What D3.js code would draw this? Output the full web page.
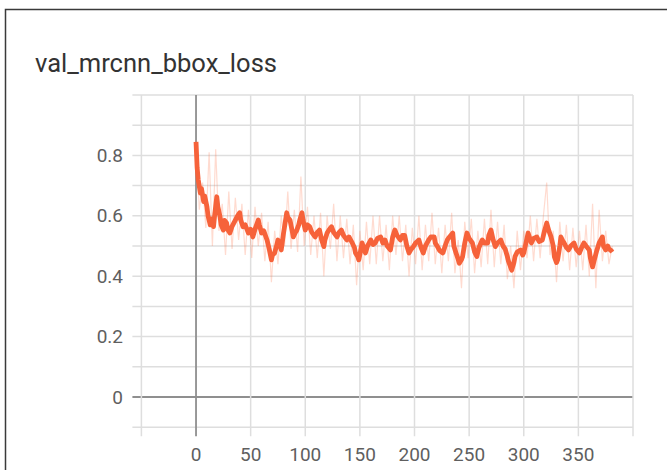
<!DOCTYPE html>
<html>
<head>
<meta charset="utf-8">
<script src="https://cdn.jsdelivr.net/npm/d3@7"></script>
<style>
  html, body { margin: 0; padding: 0; background: #fff; }
  svg { display: block; }
</style>
</head>
<body>
<svg id="chart" width="667" height="470"></svg>
<script>
// ---- data ----
const title = "val_mrcnn_bbox_loss";
const xTickValues = [0, 50, 100, 150, 200, 250, 300, 350];
const xGridValues = [-50, 0, 50, 100, 150, 200, 250, 300, 350, 400];
const yTickValues = [0, 0.2, 0.4, 0.6, 0.8];
const yGridValues = [-0.1, 0, 0.1, 0.2, 0.3, 0.4, 0.5, 0.6, 0.7, 0.8, 0.9, 1.0];

// smoothed series (step, value)
const smoothSteps = [0,1,2,4,5,7,8,10,11,13,14,16,17,19,20,22,23,25,26,28,29,31,33,36,38,40,41,43,45,48,50,52,54,57,58,60,62,65,67,69,70,72,74,75,77,78,80,83,84,86,88,89,91,92,94,95,97,98,100,102,104,106,109,111,113,115,117,118,120,122,124,126,129,131,133,135,138,140,143,145,146,148,149,151,152,154,155,157,160,162,164,166,169,171,173,175,178,180,182,184,187,189,191,193,195,197,199,201,204,206,208,210,213,215,218,219,221,223,226,228,230,232,235,236,238,240,241,243,244,246,248,250,253,255,257,259,262,264,267,268,270,272,274,276,279,281,283,285,286,288,289,291,292,294,297,299,300,302,304,306,307,309,312,314,317,319,321,323,325,327,328,330,331,333,334,336,337,339,341,343,346,348,351,353,355,357,360,361,363,365,367,369,372,373,375,377,378,380,381];
const smoothValues = [0.845,0.76,0.72,0.675,0.69,0.647,0.665,0.63,0.6,0.57,0.59,0.564,0.6,0.663,0.63,0.597,0.57,0.553,0.585,0.576,0.555,0.543,0.565,0.586,0.6,0.61,0.585,0.564,0.57,0.543,0.555,0.53,0.555,0.586,0.57,0.543,0.55,0.52,0.49,0.454,0.47,0.477,0.505,0.52,0.5,0.487,0.54,0.61,0.595,0.586,0.55,0.53,0.545,0.55,0.57,0.586,0.61,0.585,0.553,0.57,0.564,0.545,0.53,0.545,0.553,0.52,0.498,0.52,0.543,0.555,0.564,0.545,0.53,0.545,0.553,0.535,0.52,0.53,0.51,0.495,0.477,0.465,0.454,0.49,0.51,0.49,0.477,0.5,0.52,0.505,0.51,0.525,0.53,0.51,0.52,0.5,0.487,0.53,0.553,0.535,0.52,0.535,0.535,0.5,0.477,0.49,0.498,0.51,0.52,0.495,0.477,0.5,0.52,0.53,0.53,0.51,0.498,0.485,0.477,0.5,0.52,0.53,0.543,0.5,0.477,0.455,0.443,0.455,0.465,0.51,0.543,0.525,0.51,0.48,0.465,0.495,0.52,0.51,0.51,0.535,0.553,0.52,0.498,0.51,0.52,0.5,0.49,0.465,0.45,0.43,0.42,0.445,0.465,0.48,0.487,0.47,0.477,0.51,0.543,0.52,0.51,0.525,0.53,0.515,0.52,0.55,0.576,0.55,0.53,0.5,0.465,0.445,0.454,0.5,0.53,0.515,0.51,0.495,0.487,0.5,0.51,0.49,0.477,0.495,0.51,0.5,0.487,0.46,0.431,0.46,0.487,0.51,0.53,0.5,0.487,0.5,0.49,0.485,0.48];

// raw series, every 3 steps starting at 0
const rawSteps = d3.range(0, 382, 3);
const rawValues = [0.85,0.62,0.71,0.56,0.81,0.50,0.82,0.55,0.64,0.47,0.68,0.49,0.66,0.52,0.64,0.47,0.62,0.46,0.63,0.50,0.61,0.45,0.58,0.38,0.55,0.44,0.60,0.50,0.68,0.49,0.62,0.48,0.73,0.50,0.63,0.47,0.60,0.46,0.61,0.40,0.60,0.49,0.64,0.45,0.60,0.46,0.59,0.44,0.57,0.37,0.55,0.42,0.58,0.44,0.60,0.44,0.60,0.45,0.57,0.42,0.60,0.47,0.60,0.45,0.57,0.40,0.56,0.44,0.60,0.42,0.57,0.45,0.61,0.44,0.56,0.41,0.57,0.45,0.61,0.41,0.52,0.36,0.58,0.46,0.59,0.41,0.55,0.43,0.59,0.44,0.62,0.43,0.58,0.44,0.57,0.39,0.50,0.36,0.55,0.42,0.55,0.46,0.60,0.45,0.59,0.46,0.60,0.71,0.47,0.55,0.38,0.58,0.45,0.57,0.42,0.56,0.43,0.55,0.42,0.57,0.40,0.64,0.36,0.62,0.45,0.55,0.44,0.50];

// ---- drawing ----
const svg = d3.select("#chart");

const x = d3.scaleLinear().domain([-50, 400]).range([141.4, 633]);
const y = d3.scaleLinear().domain([-0.1, 1.0]).range([427.2, 95]);

// card border (left & top visible)
svg.append("rect")
  .attr("x", 5.5).attr("y", 9.5)
  .attr("width", 700).attr("height", 500)
  .attr("fill", "#fff")
  .attr("stroke", "#3a3a3a").attr("stroke-width", 1.5);

// title
svg.append("text")
  .attr("x", 35).attr("y", 72)
  .attr("font-family", "Roboto, 'Noto Sans', sans-serif")
  .attr("font-size", 25)
  .attr("fill", "#333")
  .attr("textLength", 242)
  .attr("lengthAdjust", "spacingAndGlyphs")
  .text(title);

const grid = svg.append("g");

// horizontal grid lines
grid.selectAll("line.h").data(yGridValues).join("line")
  .attr("class", "h")
  .attr("x1", x(-50) - 9).attr("x2", x(400))
  .attr("y1", d => y(d)).attr("y2", d => y(d))
  .attr("stroke", d => d === 0 ? "#8f8f8f" : "#dedede")
  .attr("stroke-width", d => d === 0 ? 1.8 : 1.5);

// vertical grid lines
grid.selectAll("line.v").data(xGridValues).join("line")
  .attr("class", "v")
  .attr("x1", d => x(d)).attr("x2", d => x(d))
  .attr("y1", y(1.0)).attr("y2", y(-0.1) + 9)
  .attr("stroke", d => d === 0 ? "#8f8f8f" : "#dedede")
  .attr("stroke-width", d => d === 0 ? 1.8 : 1.5);

// y tick labels
svg.append("g").selectAll("text").data(yTickValues).join("text")
  .attr("x", 123)
  .attr("y", d => y(d))
  .attr("dy", "0.35em")
  .attr("text-anchor", "end")
  .attr("font-family", "Roboto, 'Noto Sans', sans-serif")
  .attr("font-size", 19)
  .attr("fill", "#5f5f5f")
  .text(d => d3.format("~g")(d));

// x tick labels
svg.append("g").selectAll("text").data(xTickValues).join("text")
  .attr("x", d => x(d))
  .attr("y", 461)
  .attr("text-anchor", "middle")
  .attr("font-family", "Roboto, 'Noto Sans', sans-serif")
  .attr("font-size", 19)
  .attr("fill", "#5f5f5f")
  .text(d => d);

// raw line
const rawData = rawSteps.map((s, i) => [s, rawValues[i]]);
const smoothData = smoothSteps.map((s, i) => [s, smoothValues[i]]);
const line = d3.line().x(d => x(d[0])).y(d => y(d[1]));

svg.append("path")
  .datum(rawData)
  .attr("d", line)
  .attr("fill", "none")
  .attr("stroke", "#ff7043")
  .attr("stroke-opacity", 0.25)
  .attr("stroke-width", 1.2);

svg.append("path")
  .datum(smoothData)
  .attr("d", line)
  .attr("fill", "none")
  .attr("stroke", "#f6623a")
  .attr("stroke-width", 4.8)
  .attr("stroke-linejoin", "round");
</script>
</body>
</html>
